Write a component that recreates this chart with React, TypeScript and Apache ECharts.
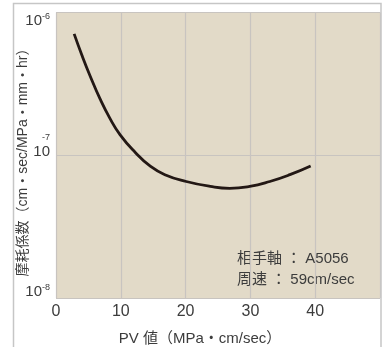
import React, { useEffect, useRef } from "react";
import * as echarts from "echarts";

const pvValues = [2.8, 4.0, 5.25, 6.8, 8.3, 9.9, 12.2, 14.5, 16.8, 20.1, 23.8, 26.8, 29.9, 33.0, 36.1, 39.3];
const wearValues = [7.08e-7, 5.02e-7, 3.61e-7, 2.48e-7, 1.82e-7, 1.39e-7, 1.05e-7, 8.41e-8, 7.31e-8, 6.55e-8, 6.05e-8, 5.87e-8, 6.05e-8, 6.55e-8, 7.31e-8, 8.41e-8];
const xTickLabels = ["0", "10", "20", "30", "40"];
const xAxisTitle = "PV 値（MPa・cm/sec）";
const yAxisTitle = "摩耗係数（cm・sec/MPa・mm・hr）";
const noteLines = ["相手軸 ： A5056", "周速 ： 59cm/sec"];

const FONT = '"Liberation Sans", "Noto Sans CJK JP", sans-serif';
const TEXT = "#3c3c3c";

export default function App() {
  const ref = useRef<HTMLDivElement>(null);
  useEffect(() => {
    if (!ref.current) return;
    const chart = echarts.init(ref.current, null, { renderer: "svg" });
    const data = pvValues.map((x, i) => [x, wearValues[i]]);
    chart.setOption({
      animation: false,
      grid: {
        left: 56,
        top: 4,
        right: 5,
        bottom: 49,
        show: true,
        backgroundColor: "#e2dac8",
        borderWidth: 0,
      },
      xAxis: {
        type: "value",
        min: 0,
        max: 50,
        interval: 10,
        axisLine: { show: false },
        axisTick: { show: false },
        splitLine: { show: true, lineStyle: { color: "#c8c4c0", width: 1.2 } },
        axisLabel: {
          color: TEXT,
          fontSize: 16,
          fontFamily: FONT,
          margin: 4,
          formatter: (v: number) => {
            const s = String(v);
            return xTickLabels.includes(s) ? s : "";
          },
        },
      },
      yAxis: {
        type: "log",
        logBase: 10,
        min: 1e-8,
        max: 1e-6,
        axisLine: { show: false },
        axisTick: { show: false },
        splitLine: { show: true, lineStyle: { color: "#c8c4c0", width: 1.2 } },
        axisLabel: {
          margin: 6,
          verticalAlignMinLabel: "bottom",
          formatter: (v: number) => {
            const e = Math.round(Math.log10(v));
            if (e === -6) return "{gt| }\n{b|10}{s|" + e + "}";
            if (e === -7) return "{sm|" + e + "}\n{b|10}\n{gb| }";
            return "{b|10}{s|" + e + "}";
          },
          rich: {
            b: { fontSize: 15, lineHeight: 16, color: TEXT, fontFamily: FONT },
            s: { fontSize: 9, lineHeight: 16, color: TEXT, fontFamily: FONT, verticalAlign: "top", padding: [0, 0, 9, 0] },
            sm: { fontSize: 9, lineHeight: 10, color: TEXT, fontFamily: FONT },
            gb: { fontSize: 9, lineHeight: 20, color: TEXT, fontFamily: FONT },
            gt: { fontSize: 9, lineHeight: 14, color: TEXT, fontFamily: FONT },
          },
        },
      },
      graphic: [
        {
          type: "rect",
          silent: true,
          shape: { x: 13.5, y: 3.5, width: 367.5, height: 400 },
          style: { fill: "none", stroke: "#c6c6c6", lineWidth: 1.5 },
          z: 10,
        },
        {
          type: "text",
          x: 200,
          y: 337,
          style: {
            text: xAxisTitle,
            fontSize: 15,
            fontFamily: FONT,
            fill: TEXT,
            textAlign: "center",
            textVerticalAlign: "middle",
          },
        },
        {
          type: "text",
          x: 22,
          y: 159,
          rotation: Math.PI / 2,
          style: {
            text: yAxisTitle,
            fontSize: 14,
            fontFamily: FONT,
            fill: TEXT,
            textAlign: "center",
            textVerticalAlign: "middle",
          },
        },
        {
          type: "text",
          x: 237,
          y: 257,
          style: { text: noteLines[0], fontSize: 15, fontFamily: FONT, fill: TEXT, textVerticalAlign: "middle" },
        },
        {
          type: "text",
          x: 237,
          y: 278,
          style: { text: noteLines[1], fontSize: 15, fontFamily: FONT, fill: TEXT, textVerticalAlign: "middle" },
        },
      ],
      series: [
        {
          type: "line",
          data,
          smooth: true,
          showSymbol: false,
          lineStyle: { color: "#231815", width: 2.8 },
        },
      ],
    });
    return () => chart.dispose();
  }, []);
  return <div ref={ref} style={{ position: "fixed", left: 0, top: 0, width: 385, height: 347 }} />;
}
